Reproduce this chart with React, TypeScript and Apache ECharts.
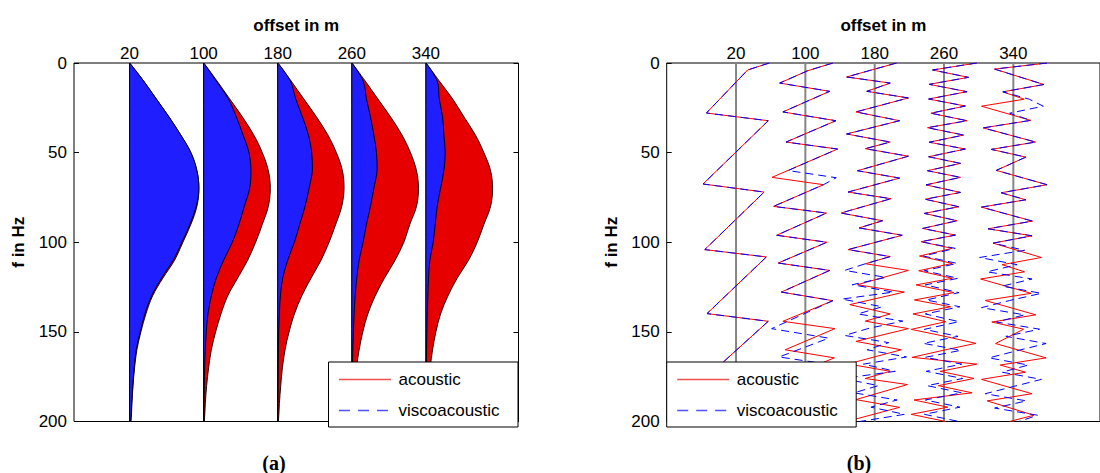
import React, { useEffect, useRef } from "react";
import * as echarts from "echarts";

// ---------- shared ----------
const OFFSETS = [20, 100, 180, 260, 340];
const OFFSET_TICKS = [20, 100, 180, 260, 340];
const FREQ_TICKS = [0, 50, 100, 150, 200];

// ---------- panel (a): amplitude spectra (normalised) ----------
const AMP_FREQ = [0, 10, 20, 30, 40, 50, 60, 70, 80, 90, 100, 110, 120, 130, 140, 150, 160, 170, 180, 190, 200];

const AMP_AC_20 = [0, 0.21, 0.4, 0.59, 0.765, 0.92, 1.01, 1.04, 1.01, 0.92, 0.8, 0.675, 0.5, 0.345, 0.245, 0.17, 0.11, 0.075, 0.052, 0.035, 0.02];
const AMP_VI_20 = [0, 0.21, 0.4, 0.59, 0.765, 0.92, 1.01, 1.04, 1.0, 0.905, 0.785, 0.655, 0.48, 0.33, 0.23, 0.16, 0.1, 0.07, 0.048, 0.032, 0.018];
const AMP_AC_100 = [0, 0.2, 0.39, 0.58, 0.75, 0.88, 0.97, 1.0, 0.97, 0.88, 0.78, 0.66, 0.51, 0.36, 0.26, 0.18, 0.115, 0.075, 0.045, 0.025, 0.01];
const AMP_VI_100 = [0, 0.19, 0.37, 0.49, 0.59, 0.68, 0.71, 0.69, 0.61, 0.53, 0.43, 0.3, 0.19, 0.115, 0.065, 0.04, 0.025, 0.015, 0.01, 0.005, 0.002];
const AMP_AC_180 = [0, 0.2, 0.39, 0.58, 0.75, 0.88, 0.97, 0.995, 0.96, 0.87, 0.77, 0.65, 0.5, 0.36, 0.25, 0.17, 0.11, 0.07, 0.045, 0.025, 0.01];
const AMP_VI_180 = [0, 0.19, 0.27, 0.37, 0.46, 0.51, 0.52, 0.47, 0.41, 0.33, 0.25, 0.15, 0.075, 0.04, 0.025, 0.015, 0.01, 0.006, 0.004, 0.002, 0.001];
const AMP_AC_260 = [0, 0.2, 0.39, 0.58, 0.75, 0.88, 0.97, 1.0, 0.97, 0.87, 0.78, 0.65, 0.49, 0.35, 0.24, 0.165, 0.11, 0.07, 0.045, 0.025, 0.01];
const AMP_VI_260 = [0, 0.17, 0.22, 0.28, 0.33, 0.37, 0.38, 0.33, 0.28, 0.22, 0.17, 0.11, 0.075, 0.05, 0.035, 0.025, 0.015, 0.01, 0.006, 0.003, 0.001];
const AMP_AC_340 = [0, 0.2, 0.4, 0.57, 0.74, 0.87, 0.97, 1.0, 0.97, 0.87, 0.77, 0.64, 0.47, 0.33, 0.22, 0.15, 0.1, 0.065, 0.04, 0.025, 0.01];
const AMP_VI_340 = [0, 0.17, 0.2, 0.25, 0.27, 0.29, 0.27, 0.22, 0.17, 0.14, 0.11, 0.06, 0.04, 0.03, 0.02, 0.015, 0.01, 0.007, 0.005, 0.003, 0.001];

const AMP_ACOUSTIC = [AMP_AC_20, AMP_AC_100, AMP_AC_180, AMP_AC_260, AMP_AC_340];
const AMP_VISCO = [AMP_VI_20, AMP_VI_100, AMP_VI_180, AMP_VI_260, AMP_VI_340];

// ---------- panel (b): phase spectra, vertices [f in Hz, phase in deg] ----------
const PH_AC_20 = [[0, 178], [3.9, 62], [27.9, -158], [32.2, 172], [67.5, -176], [72, 150], [104.1, -167], [108.2, 162], [139.8, -155], [144.1, 172], [176, -165], [180, 165], [200, -45]];
const PH_VI_20 = [[0, 178], [3.9, 62], [27.9, -158], [32.2, 172], [67.5, -176], [72, 150], [104.1, -167], [108.2, 162], [139.8, -155], [144.1, 172], [176, -165], [180, 165], [200, -45]];

const PH_AC_100 = [[0, 147], [4.3, 13], [11.2, -137], [15.8, 130], [27.3, -120], [32.2, 163], [44.1, -103], [48, 172], [63.8, -178], [67.9, 97], [80, -170], [83.7, 113], [96.1, -153], [100, 115], [111.6, -145], [115.7, 130], [127.8, -128], [132.6, 147], [144.1, -120], [148.2, 158], [160, -108], [164.5, 155], [176.5, -125], [180.5, 150], [192.5, -110], [196.5, 160], [200, 95]];
const PH_VI_100 = [[0, 147], [4.3, 13], [11.2, -137], [15.8, 130], [27.3, -120], [32.2, 163], [44.1, -103], [48, 172], [60, -92], [64, 165], [67.9, 97], [80, -170], [83.7, 113], [96.1, -153], [100, 115], [111.6, -145], [115.7, 130], [127.8, -128], [132.6, 147], [148.2, -180], [153.5, 125], [164, -140], [168, 120], [180, -130], [184, 140], [196, -120], [200, -20]];

const PH_AC_180 = [[0, 117], [7.8, -150], [11.2, 83], [15.8, -42], [19.5, 180], [27.3, -100], [32.2, 133], [39.6, -150], [44.1, 83], [47.8, -50], [52, 180], [60.1, -92], [64.2, 133], [72, -142], [75.7, 87], [83.7, -180], [88, 42], [92, -83], [96.1, 147], [104.1, -142], [108, 83], [112, -50], [115.7, 180], [123.7, -92], [127.8, 158], [134.8, -133], [140, 83], [144, -50], [148.2, 180], [155.3, -100], [160, 142], [167.9, -142], [172, 83], [176, -50], [179.4, 175], [187.8, -100], [192.1, 133], [200, -150]];
const PH_VI_180 = [[0, 117], [7.8, -150], [11.2, 83], [15.8, -42], [19.5, 180], [27.3, -100], [32.2, 133], [39.6, -150], [44.1, 83], [47.8, -50], [52, 180], [60.1, -92], [64.2, 133], [72, -142], [75.7, 87], [83.7, -180], [88, 42], [92, -83], [96.1, 147], [104.1, -142], [108, 83], [112, -50], [115.7, -160], [119.6, 60], [123.7, -120], [127.8, 100], [131.7, -175], [136, 40], [140, -90], [144, 150], [148, -30], [152, -160], [156, 75], [160, -40], [164, 170], [168, -60], [172, 110], [176, -170], [180, 20], [184, -110], [188, 120], [192, -20], [196, 160], [200, -80]];

const PH_AC_260 = [[0, 175], [3.9, -61], [8, 131], [11.9, -79], [16, 123], [20.1, -82], [24, 114], [28, -70], [32.2, 123], [36.1, -88], [40.2, 105], [44.2, -79], [48, 114], [52.3, -82], [56, 88], [60.1, -88], [63.8, 88], [68, -96], [72.2, 88], [76, -100], [80.2, 79], [83.9, -105], [88, 70], [92.3, -114], [96, 61], [99.7, -123], [103.4, 44], [107.7, -131], [111.8, 44], [115.9, -135], [120.1, 44], [123.8, -149], [128.1, 53], [132.2, -158], [136, 35], [140, -166], [144.3, 9], [148.6, -175], [152.5, 5], [156.4, 170], [160.3, -5], [164.2, -170], [168, 175], [172, -20], [176, 160], [180, -30], [184, 150], [188, -160], [192, 20], [196, -175], [200, 10]];
const PH_VI_260 = [[0, 175], [3.9, -61], [8, 131], [11.9, -79], [16, 123], [20.1, -82], [24, 114], [28, -70], [32.2, 123], [36.1, -88], [40.2, 105], [44.2, -79], [48, 114], [52.3, -82], [56, 88], [60.1, -88], [63.8, 88], [68, -96], [72.2, 88], [76, -100], [80.2, 79], [83.9, -105], [88, 70], [92.3, -114], [96, 61], [99.7, -123], [103.4, 60], [107.7, -110], [111.8, 70], [115.9, -105], [120.1, 75], [123.8, -100], [128.1, 80], [132.2, -95], [136, 85], [140, -100], [144.3, 80], [148.6, -105], [152.5, 75], [156.4, -110], [160.3, 90], [164.2, -100], [168, 95], [172, -95], [176, 100], [180, -90], [184, 95], [188, -100], [192, 85], [196, -105], [200, 80]];

const PH_AC_340 = [[0, 180], [3.4, -100], [12, 163], [16.1, -56], [20.2, 58], [24.1, -170], [32, 93], [36.2, -161], [44.1, 119], [48.2, -118], [52.5, 67], [59.9, -91], [67.9, 180], [72.4, -65], [76.3, 67], [80.4, -170], [88.2, 102], [92.5, -135], [96.4, 100], [100.5, -108], [108.5, 150], [112.5, -60], [116.5, 60], [120.5, -175], [128.5, 95], [132.5, -150], [140.5, 120], [144.5, -115], [148.5, 55], [156.5, -95], [164.5, 175], [168.5, -70], [172.5, 65], [176.5, -170], [184.5, 100], [188.5, -140], [196.5, 110], [200, -20]];
const PH_VI_340 = [[0, 180], [3.4, -100], [12, 163], [16.1, -56], [20.2, 85], [24.1, 160], [28, -20], [32, 93], [36.2, -161], [44.1, 119], [48.2, -118], [52.5, 67], [59.9, -91], [67.9, 180], [72.4, -65], [76.3, 67], [80.4, -170], [88.2, 102], [92.5, -135], [96.4, 100], [100.5, -108], [104.5, 60], [108.5, -180], [112.5, 20], [116.5, -140], [120.5, 100], [124.5, -60], [128.5, 150], [132.5, -20], [136.5, -170], [140.5, 60], [144.5, -90], [148.5, 140], [152.5, -40], [156.5, 175], [160.5, 20], [164.5, -130], [168.5, 80], [172.5, -60], [176.5, 150], [180.5, 0], [184.5, -150], [188.5, 70], [192.5, -100], [196.5, 130], [200, 30]];

const PH_ACOUSTIC = [PH_AC_20, PH_AC_100, PH_AC_180, PH_AC_260, PH_AC_340];
const PH_VISCO = [PH_VI_20, PH_VI_100, PH_VI_180, PH_VI_260, PH_VI_340];

// ---------- styling ----------
const AMP_GAIN = 72; // offset units per unit amplitude
const PHASE_GAIN = 38.9 / 180; // offset units per degree
const FONT = "Liberation Sans";
const RED = "#ff0000";
const BLUE = "#0000ff";

function App() {
  const ref = useRef<HTMLDivElement>(null);

  useEffect(() => {
    if (!ref.current) return;
    const chart = echarts.init(ref.current, undefined, { renderer: "svg" });

    const axisLabel = { fontSize: 17, fontFamily: FONT, color: "#000" };
    const nameStyle = { fontSize: 17, fontFamily: FONT, fontWeight: "bold", color: "#000" };

    const makeX = (gridIndex: number, min: number, max: number) => ({
      type: "value",
      gridIndex,
      position: "top",
      min,
      max,
      name: "offset in m",
      nameLocation: "middle",
      nameGap: 29,
      nameTextStyle: nameStyle,
      axisLine: { show: false, onZero: false },
      axisTick: { show: true, inside: true, length: 5, customValues: OFFSET_TICKS, lineStyle: { color: "#000" } },
      axisLabel: { ...axisLabel, margin: 1, customValues: OFFSET_TICKS },
      splitLine: { show: false },
    });

    const makeY = (gridIndex: number, withName: boolean, position: string) => ({
      type: "value",
      gridIndex,
      position,
      inverse: true,
      min: 0,
      max: 200,
      interval: 50,
      name: withName ? "f in Hz" : "",
      nameLocation: "middle",
      nameGap: 47,
      nameTextStyle: nameStyle,
      axisLine: { show: false, onZero: false },
      axisTick: { show: true, inside: true, length: 5, lineStyle: { color: "#000" } },
      axisLabel: withName ? { ...axisLabel, margin: 7, customValues: FREQ_TICKS } : { show: false },
      splitLine: { show: false },
    });

    const ampSeries = {
      type: "custom",
      xAxisIndex: 0,
      yAxisIndex: 0,
      data: OFFSETS.map((o, i) => [o, i]),
      encode: { x: 0, y: 1 },
      silent: true,
      z: 3,
      renderItem: (params: any, api: any) => {
        const i = params.dataIndex;
        const off = OFFSETS[i];
        const build = (amps: number[]) => {
          const pts = AMP_FREQ.map((f, k) => api.coord([off + amps[k] * AMP_GAIN, f]));
          if (amps[amps.length - 1] > 0) pts.push(api.coord([off, AMP_FREQ[AMP_FREQ.length - 1]]));
          if (amps[0] > 0) pts.unshift(api.coord([off, AMP_FREQ[0]]));
          return pts;
        };
        const base = api.coord([off, 0]);
        const poly = (amps: number[], fill: string) => ({
          type: "polygon",
          shape: { points: build(amps), smooth: 0.35, smoothConstraint: [base, base] },
          style: { fill, stroke: "#000", lineWidth: 0.9 },
        });
        return {
          type: "group",
          children: [poly(AMP_ACOUSTIC[i], "#e60000"), poly(AMP_VISCO[i], "#1e1eff")],
        };
      },
    };

    const baseSeries = OFFSETS.map((o) => ({
      type: "line",
      xAxisIndex: 1,
      yAxisIndex: 2,
      data: [[o, 0], [o, 200]],
      symbol: "none",
      silent: true,
      z: 2,
      lineStyle: { color: "#858585", width: 2 },
    }));

    const phaseSeries = (list: number[][][], color: string, dashed: boolean, z: number) =>
      list.map((verts, i) => ({
        type: "line",
        xAxisIndex: 1,
        yAxisIndex: 2,
        data: verts.map(([f, d]) => [OFFSETS[i] + d * PHASE_GAIN, f]),
        symbol: "none",
        silent: true,
        z,
        lineStyle: { color, width: 1, type: dashed ? [8, 5] : "solid" },
      }));

    const legend = (x: number) => [
      {
        type: "rect",
        z: 100,
        shape: { x, y: 362, width: 189.5, height: 65 },
        style: { fill: "#fff", stroke: "#000", lineWidth: 1 },
      },
      {
        type: "polyline",
        z: 101,
        shape: { points: [[x + 10.5, 379.5], [x + 62.5, 379.5]] },
        style: { stroke: "#f05050", lineWidth: 1.6, fill: null },
      },
      {
        type: "text",
        z: 101,
        x: x + 70,
        y: 379.5,
        style: { text: "acoustic", fontSize: 17, fontFamily: FONT, fill: "#000", verticalAlign: "middle" },
      },
      {
        type: "polyline",
        z: 101,
        shape: { points: [[x + 10.5, 410.5], [x + 62.5, 410.5]] },
        style: { stroke: "#5050ff", lineWidth: 1.4, lineDash: [11, 8], fill: null },
      },
      {
        type: "text",
        z: 101,
        x: x + 70,
        y: 410,
        style: { text: "viscoacoustic", fontSize: 17, fontFamily: FONT, fill: "#000", verticalAlign: "middle" },
      },
    ];

    const caption = (text: string, x: number) => ({
      type: "text",
      z: 101,
      x,
      y: 463,
      style: {
        text,
        fontSize: 20,
        fontWeight: "bold",
        fontFamily: "Liberation Serif",
        fill: "#000",
        align: "center",
        verticalAlign: "middle",
      },
    });

    chart.setOption({
      animation: false,
      backgroundColor: "#fff",
      grid: [
        { left: 74, top: 63, width: 444.5, height: 358.5, show: true, borderColor: "#000", borderWidth: 1, backgroundColor: "transparent" },
        { left: 666.7, top: 63, width: 462.3, height: 358.5, show: true, borderColor: "#000", borderWidth: 1, backgroundColor: "transparent" },
      ],
      xAxis: [makeX(0, -40, 440), makeX(1, -60, 440)],
      yAxis: [makeY(0, true, "left"), makeY(0, false, "right"), makeY(1, true, "left")],
      series: [
        ampSeries,
        ...baseSeries,
        ...phaseSeries(PH_ACOUSTIC, RED, false, 4),
        ...phaseSeries(PH_VISCO, BLUE, true, 5),
      ],
      graphic: [...legend(328.5), ...legend(666.7), caption("(a)", 274), caption("(b)", 859)],
    });

    return () => chart.dispose();
  }, []);

  return (
    <div
      ref={ref}
      style={{ position: "absolute", left: 0, top: 0, width: 1100, height: 473, overflow: "hidden" }}
    />
  );
}

export default App;
